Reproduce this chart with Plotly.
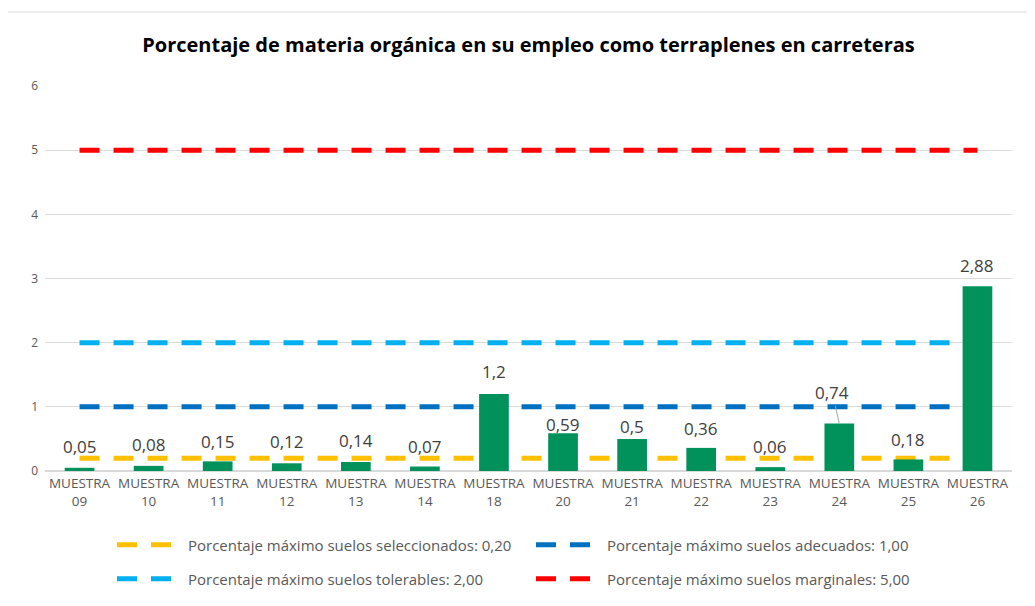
import plotly.graph_objects as go

# muestras y porcentaje de materia orgánica
categories = ["MUESTRA<br>09", "MUESTRA<br>10", "MUESTRA<br>11", "MUESTRA<br>12",
              "MUESTRA<br>13", "MUESTRA<br>14", "MUESTRA<br>18", "MUESTRA<br>20",
              "MUESTRA<br>21", "MUESTRA<br>22", "MUESTRA<br>23", "MUESTRA<br>24",
              "MUESTRA<br>25", "MUESTRA<br>26"]
materia_organica = [0.05, 0.08, 0.15, 0.12, 0.14, 0.07, 1.2, 0.59, 0.5, 0.36, 0.06, 0.74, 0.18, 2.88]

# límites
limit_names = ["Porcentaje máximo suelos seleccionados: 0,20",
               "Porcentaje máximo suelos adecuados: 1,00",
               "Porcentaje máximo suelos tolerables: 2,00",
               "Porcentaje máximo suelos marginales: 5,00"]
limit_values = [0.20, 1.00, 2.00, 5.00]
limit_colors = ["#FFC000", "#0070C0", "#00B0F0", "#FF0000"]
limit_legends = ["legend", "legend", "legend2", "legend2"]

# desplazamiento vertical (px) de cada etiqueta de dato
label_shift = [8, 8, 6, 8, 8, 7, 9, -5, -1, 6, 7, 0, 6, 7]

FONT = "Open Sans"
W, H = 1035, 606
OFF = 8  # margen del body de la página
# posiciones del área de trazado en la página
px0, px1, py0, py1 = 45, 1012, 86, 471
L, T = px0 - OFF, py0 - OFF
R, B = W - (px1 - OFF), H - (py1 - OFF)
pw, ph = px1 - px0, py1 - py0


def fx(xp):  # pixel de página -> fracción de paper
    return (xp - px0) / pw


def fy(yp):
    return (py1 - yp) / ph


fig = go.Figure()

fig.add_trace(go.Bar(
    x=categories, y=materia_organica, marker_color="#00925A",
    marker_line_width=0, width=0.43, showlegend=False,
))

# líneas límite como shapes (por debajo de las barras)
for name, val, color, lg in zip(limit_names, limit_values, limit_colors, limit_legends):
    fig.add_shape(type="line", xref="x", yref="y",
                  x0=categories[0], x1=categories[-1], y0=val, y1=val,
                  line=dict(color=color, width=5, dash="20px,14px"),
                  layer="between", name=name, showlegend=True, legend=lg)

for cat, v, s in zip(categories, materia_organica, label_shift):
    label = str(v).replace(".", ",")
    if v == 0.74:
        fig.add_annotation(x=cat, y=v, text=label, showarrow=True, arrowhead=0,
                           arrowwidth=1, arrowcolor="#A6A6A6", ax=-7, ay=-31,
                           font=dict(family=FONT, size=17, color="#404040"))
    else:
        fig.add_annotation(x=cat, y=v, text=label, showarrow=False, yanchor="bottom",
                           yshift=s, font=dict(family=FONT, size=17, color="#404040"))

fig.add_shape(type="rect", xref="paper", yref="paper",
              x0=fx(4), x1=fx(1050), y0=fy(620), y1=fy(12),
              line=dict(color="#D9D9D9", width=1), layer="below")

legend_common = dict(orientation="h", xanchor="left", yanchor="middle",
                     entrywidth=338, entrywidthmode="pixels", itemwidth=66,
                     font=dict(family=FONT, size=15, color="#595959"),
                     bgcolor="rgba(0,0,0,0)")

fig.update_layout(
    width=W, height=H,
    margin=dict(l=L, r=R, t=T, b=B),
    paper_bgcolor="white", plot_bgcolor="white",
    font=dict(family=FONT, color="#595959"),
    title=dict(text="<b>Porcentaje de materia orgánica en su empleo como terraplenes en carreteras</b>",
               x=0.5, xref="paper", xanchor="center", y=1 - (45 - OFF) / H, yref="container",
               yanchor="middle", font=dict(family=FONT, size=20, color="#000000")),
    legend=dict(x=fx(112), y=fy(545), **legend_common),
    legend2=dict(x=fx(112), y=fy(579), **legend_common),
    xaxis=dict(showgrid=False, showline=True, linecolor="#D9D9D9", linewidth=1,
               ticks="", tickfont=dict(family=FONT, size=13.5, color="#595959")),
    yaxis=dict(range=[0, 6], dtick=1, showgrid=True, gridcolor="#D9D9D9", gridwidth=1,
               zeroline=True, zerolinecolor="#D9D9D9", showline=False,
               tickfont=dict(family=FONT, size=12, color="#595959"), ticklabelstandoff=6),
)

fig.write_html("out.html")
